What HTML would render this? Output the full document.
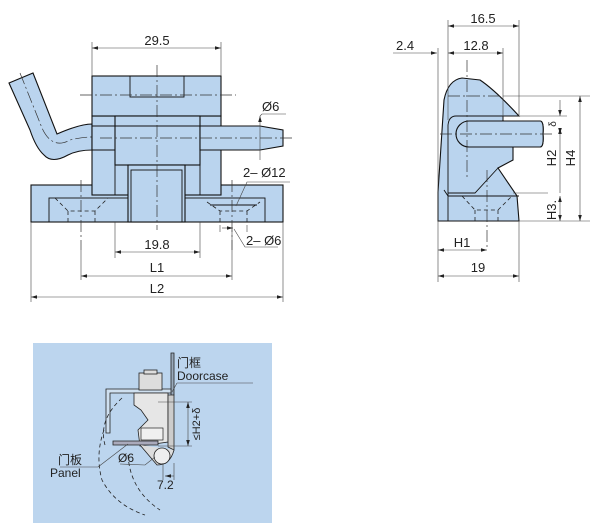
<!DOCTYPE html>
<html><head><meta charset="utf-8"><style>
html,body{margin:0;padding:0;background:#fff;width:600px;height:529px;overflow:hidden}
svg{display:block}
text{font-family:"Liberation Sans","Noto Sans CJK SC",sans-serif;font-size:13px;fill:#222}
.f{fill:#bad4ee;stroke:#111;stroke-width:1.1}
.l{stroke:#111;stroke-width:.9;fill:none}
.d{stroke:#444;stroke-width:.6;fill:none}
.c{stroke:#333;stroke-width:.7;fill:none;stroke-dasharray:12 3 2 3}
.h{stroke:#222;stroke-width:.8;fill:none;stroke-dasharray:4 3}
</style></head><body>
<svg width="600" height="529" viewBox="0 0 600 529">
<defs><marker id="a" viewBox="0 0 10 6" refX="10" refY="3" markerWidth="10" markerHeight="6" orient="auto-start-reverse"><path d="M0,0L10,3L0,6z" fill="#222"/></marker></defs>

<!-- FRONT VIEW -->
<path class="f" d="M9,83 L33,73 L57,134 Q80,124 92,124 L92,150 Q78,150 68,155 Q52,164 44,155 Q36,148 30,130 Z"/>
<path class="c" d="M20,73 L42,128 Q52,150 70,140 Q82,137 92,137"/>
<rect class="f" x="31" y="185" width="252" height="37"/>
<rect class="l" x="49" y="198" width="216" height="24"/>
<rect class="f" x="92" y="116" width="129" height="79"/>
<rect class="f" x="92" y="76" width="129" height="40"/>
<rect class="l" x="130" y="76" width="54" height="21"/>
<rect class="f" x="115" y="116" width="85" height="49"/>
<rect class="f" x="128" y="165" width="57" height="57"/>
<rect class="l" x="131" y="170" width="51" height="52"/>
<line class="l" x1="92" y1="126" x2="260" y2="126"/>
<path class="f" d="M200,126 L260,126 L283,130 L283,146 L260,150 L200,150 Z"/>
<line class="l" x1="92" y1="150" x2="115" y2="150"/>
<line class="l" x1="115" y1="165" x2="115" y2="195"/><line class="l" x1="200" y1="165" x2="200" y2="195"/>
<line class="l" x1="92" y1="195" x2="128" y2="195"/><line class="l" x1="185" y1="195" x2="221" y2="195"/>
<path class="h" d="M55,198 L68,211 L95,211 L108,198 M68,211 L68,222 M95,211 L95,222"/>
<path class="h" d="M207,202 L220,211 L247,211 L260,202 M220,211 L220,222 M247,211 L247,222"/>
<line class="l" x1="210" y1="205" x2="257" y2="205"/>
<line class="c" x1="80" y1="95" x2="236" y2="95"/>
<line class="c" x1="157" y1="65" x2="157" y2="230"/>
<line class="c" x1="100" y1="138" x2="293" y2="138"/>
<line class="c" x1="81" y1="180" x2="81" y2="250"/>
<line class="c" x1="232" y1="180" x2="232" y2="250"/>
<line class="d" x1="92" y1="42" x2="92" y2="76"/><line class="d" x1="221" y1="42" x2="221" y2="76"/>
<line class="d" x1="92" y1="48" x2="221" y2="48" marker-start="url(#a)" marker-end="url(#a)"/>
<text x="157" y="45" text-anchor="middle">29.5</text>
<line class="d" x1="260" y1="116" x2="260" y2="160" marker-start="url(#a)"/>
<polyline class="d" points="260,116 262,114 286,114"/>
<text x="262" y="111">Ø6</text>
<polyline class="d" points="236,206 247,182 290,182"/><text x="243" y="177">2– Ø12</text>
<line class="d" x1="220" y1="225" x2="220" y2="232"/><line class="d" x1="247" y1="225" x2="247" y2="232"/>
<line class="d" x1="222" y1="228" x2="233" y2="228" marker-end="url(#a)"/>
<polyline class="d" points="234,229 245,247 278,247"/><text x="246" y="245">2– Ø6</text>
<line class="d" x1="115" y1="222" x2="115" y2="258"/><line class="d" x1="200" y1="222" x2="200" y2="258"/>
<line class="d" x1="115" y1="252" x2="200" y2="252" marker-start="url(#a)" marker-end="url(#a)"/>
<text x="157" y="249" text-anchor="middle">19.8</text>
<line class="d" x1="81" y1="276" x2="232" y2="276" marker-start="url(#a)" marker-end="url(#a)"/>
<line class="d" x1="232" y1="230" x2="232" y2="280"/><line class="d" x1="81" y1="250" x2="81" y2="280"/>
<text x="157" y="272" text-anchor="middle">L1</text>
<line class="d" x1="31" y1="222" x2="31" y2="302"/><line class="d" x1="283" y1="222" x2="283" y2="302"/>
<line class="d" x1="31" y1="297" x2="283" y2="297" marker-start="url(#a)" marker-end="url(#a)"/>
<text x="157" y="293" text-anchor="middle">L2</text>

<!-- SIDE VIEW -->
<path class="f" d="M438,221 L438,192 L444,100 Q448,80 462,78 L480,80 Q495,90 519,116 L503,116 L503,121 L540,121 Q544,121 543,134 Q544,147 540,147 L513,147 L513,160 L498,168 L517,196 L519,221 Z"/>
<path class="f" d="M469,121 L503,121 L540,121 Q544,121 543,134 Q544,147 540,147 L469,147 A13,13 0 0 1 469,121 Z"/>
<path class="l" d="M448,221 L448,125 Q449,116 456,116 L503,116 M448,196 L519,196 M444,190 L448,196"/>
<path class="l" d="M448,193 L475,193 L498,168"/>
<path class="h" d="M462,196 L475,210 L498,210 L512,196 M475,210 L475,221 M498,210 L498,221"/>
<line class="c" x1="467" y1="60" x2="467" y2="178"/>
<line class="c" x1="487" y1="170" x2="487" y2="250"/>
<line class="c" x1="440" y1="134" x2="552" y2="134"/>
<line class="c" x1="448" y1="96" x2="503" y2="96"/>
<line class="d" x1="448" y1="20" x2="448" y2="120"/><line class="d" x1="519" y1="20" x2="519" y2="116"/>
<line class="d" x1="448" y1="26" x2="519" y2="26" marker-start="url(#a)" marker-end="url(#a)"/>
<text x="483" y="23" text-anchor="middle">16.5</text>
<line class="d" x1="503" y1="48" x2="503" y2="120"/><line class="d" x1="438" y1="48" x2="438" y2="221"/>
<line class="d" x1="448" y1="53" x2="503" y2="53" marker-start="url(#a)" marker-end="url(#a)"/>
<text x="476" y="50" text-anchor="middle">12.8</text>
<line class="d" x1="393" y1="53" x2="437" y2="53" marker-end="url(#a)"/>
<text x="396" y="50">2.4</text>
<line class="d" x1="503" y1="96" x2="590" y2="96"/>
<line class="d" x1="520" y1="116" x2="567" y2="116"/>
<line class="d" x1="513" y1="193" x2="548" y2="193"/>
<line class="d" x1="519" y1="221" x2="590" y2="221"/>
<line class="d" x1="580" y1="96" x2="580" y2="221" marker-start="url(#a)" marker-end="url(#a)"/>
<line class="d" x1="560" y1="100" x2="560" y2="116" marker-end="url(#a)"/>
<line class="d" x1="560" y1="128" x2="560" y2="193" marker-start="url(#a)"/>
<line class="d" x1="560" y1="128" x2="560" y2="134" marker-end="url(#a)"/>
<line class="d" x1="560" y1="196" x2="560" y2="221" marker-start="url(#a)" marker-end="url(#a)"/>
<text transform="translate(575,158) rotate(-90)" text-anchor="middle">H4</text>
<text transform="translate(556,158) rotate(-90)" text-anchor="middle">H2</text>
<text transform="translate(556,210) rotate(-90)" text-anchor="middle">H3.</text>
<text transform="translate(556,124) rotate(-90)" text-anchor="middle" style="font-size:10px">δ</text>
<line class="d" x1="519" y1="221" x2="519" y2="282"/>
<line class="d" x1="438" y1="250" x2="487" y2="250" marker-start="url(#a)" marker-end="url(#a)"/>
<text x="462" y="247" text-anchor="middle">H1</text>
<line class="d" x1="438" y1="221" x2="438" y2="282"/>
<line class="d" x1="438" y1="276" x2="519" y2="276" marker-start="url(#a)" marker-end="url(#a)"/>
<text x="478" y="272" text-anchor="middle">19</text>

<!-- INSTALL PANEL -->
<rect x="33" y="343" width="239" height="180" fill="#bcd5ee"/>
<path d="M171,353 L174,353 L174,395 L171,398 Z" fill="#9ab" stroke="#222" stroke-width=".8"/>
<path d="M106,389 L171,389 L171,393 L110,393 L110,433 L106,433 Z" fill="#cfe0f0" stroke="#222" stroke-width=".8"/>
<rect x="139" y="373" width="23" height="17" fill="#ddd" stroke="#222" stroke-width=".8"/>
<rect x="144" y="370" width="13" height="4" fill="#ddd" stroke="#222" stroke-width=".8"/>
<path d="M134,393 L168,393 L168,442 L140,446 L138,430 L148,420 L141,410 L134,405 Z" fill="#e6e6e6" stroke="#222" stroke-width=".8"/>
<rect x="141" y="428" width="22" height="12" fill="#f0f0f0" stroke="#222" stroke-width=".7"/>
<path d="M168,395 L174,395 L174,450 L168,447 Z" fill="#ccc" stroke="#222" stroke-width=".8"/>
<path d="M113,441 L158,441 L158,445 L113,445 Z" fill="#aab" stroke="#222" stroke-width=".8"/>
<path d="M140,445 L157,465 Q170,465 174,450" fill="#ddd" stroke="#222" stroke-width=".8"/>
<circle cx="162" cy="456" r="8" fill="#eee" stroke="#222" stroke-width=".8"/>
<path class="h" d="M122,398 Q98,420 105,445 M104,430 Q95,455 102,480 Q115,505 145,515 M128,455 Q130,490 160,510"/>
<line class="d" x1="158" y1="402" x2="192" y2="402"/><line class="d" x1="158" y1="446" x2="192" y2="446"/>
<line class="d" x1="188" y1="402" x2="188" y2="446" marker-start="url(#a)" marker-end="url(#a)"/>
<text transform="translate(200,424) rotate(-90)" text-anchor="middle" style="font-size:11px">≤H2+δ</text>
<line class="d" x1="163" y1="463" x2="163" y2="480"/><line class="d" x1="174" y1="463" x2="174" y2="480"/>
<line class="d" x1="165" y1="476" x2="174" y2="476" marker-start="url(#a)"/>
<text x="157" y="489" style="font-size:12px">7.2</text>
<text x="118" y="462" style="font-size:12px">Ø6</text>
<polyline class="d" points="120,464 145,465 155,457"/>
<text x="177" y="367" style="font-size:12px">门框</text>
<text x="177" y="380" style="font-size:12px">Doorcase</text>
<line class="d" x1="177" y1="383" x2="253" y2="383"/>
<line class="d" x1="177" y1="383" x2="172" y2="392"/>
<text x="58" y="464" style="font-size:12px">门板</text>
<text x="50" y="477" style="font-size:12px">Panel</text>
<line class="d" x1="60" y1="467" x2="98" y2="467"/>
<line class="d" x1="98" y1="467" x2="128" y2="444"/>
</svg>
</body></html>
